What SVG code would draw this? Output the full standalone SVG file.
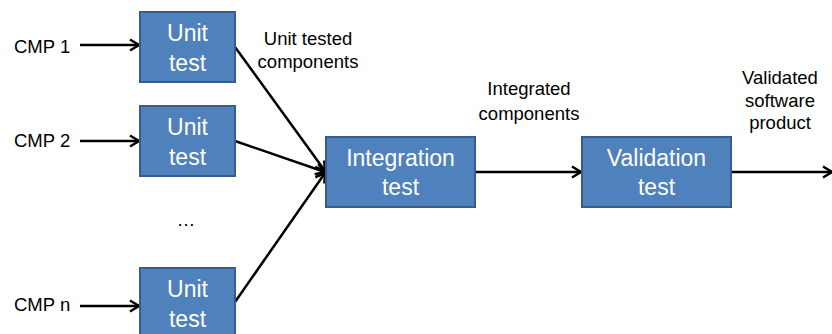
<svg xmlns="http://www.w3.org/2000/svg" width="832" height="334" viewBox="0 0 832 334">
<style>
.box{fill:#4F81BD;stroke:#385D8A;stroke-width:2}
.bt{font-family:"Liberation Sans",Arial,sans-serif;font-size:23px;fill:#ffffff;text-anchor:middle}
.lb{font-family:"Liberation Sans",Arial,sans-serif;font-size:18.5px;fill:#000000}
.c{text-anchor:middle}
.ln{stroke:#000;stroke-width:2.5;fill:none;marker-end:url(#arr)}
</style>
<defs>
<marker id="arr" markerUnits="userSpaceOnUse" viewBox="0 0 14 14" refX="12" refY="7" markerWidth="14" markerHeight="14" orient="auto">
<path d="M3,1.5 L12,7 L3,12.5" fill="none" stroke="#000" stroke-width="2.5"/>
</marker>
</defs>
<rect width="832" height="334" fill="#ffffff"/>
<g id="connectors">
<line class="ln" x1="80" y1="45" x2="139" y2="45"/>
<line class="ln" x1="80" y1="141" x2="139" y2="141"/>
<line class="ln" x1="80" y1="306" x2="139" y2="306"/>
<line class="ln" x1="235" y1="47" x2="325" y2="171"/>
<line class="ln" x1="235" y1="141" x2="325" y2="172"/>
<line class="ln" x1="235" y1="302" x2="325" y2="173"/>
<line class="ln" x1="476" y1="172" x2="581" y2="172"/>
<line class="ln" x1="732" y1="172" x2="832" y2="172"/>
</g>
<g id="cmp1"><text class="lb" x="14" y="53">CMP 1</text></g>
<g id="cmp2"><text class="lb" x="14" y="147">CMP 2</text></g>
<g id="cmpn"><text class="lb" x="14" y="311">CMP n</text></g>
<g id="unit1">
<rect class="box" x="140" y="12" width="95" height="70"/>
<text class="bt" x="187.5" y="41">Unit</text>
<text class="bt" x="187.5" y="71">test</text>
</g>
<g id="unit2">
<rect class="box" x="140" y="106" width="95" height="70"/>
<text class="bt" x="187.5" y="135">Unit</text>
<text class="bt" x="187.5" y="165">test</text>
</g>
<g id="ellipsis"><text class="lb c" x="186" y="226">…</text></g>
<g id="unitn">
<rect class="box" x="140" y="268" width="95" height="72"/>
<text class="bt" x="187.5" y="297">Unit</text>
<text class="bt" x="187.5" y="327">test</text>
</g>
<g id="lbl-unit-tested">
<text class="lb c" x="308" y="45">Unit tested</text>
<text class="lb c" x="308" y="68">components</text>
</g>
<g id="integration">
<rect class="box" x="326" y="137" width="149" height="70"/>
<text class="bt" x="400.5" y="166">Integration</text>
<text class="bt" x="400.5" y="195">test</text>
</g>
<g id="lbl-integrated">
<text class="lb c" x="529" y="95">Integrated</text>
<text class="lb c" x="529" y="120">components</text>
</g>
<g id="validation">
<rect class="box" x="582" y="137" width="149" height="70"/>
<text class="bt" x="656.5" y="166">Validation</text>
<text class="bt" x="656.5" y="195">test</text>
</g>
<g id="lbl-validated">
<text class="lb c" x="780" y="84">Validated</text>
<text class="lb c" x="780" y="107">software</text>
<text class="lb c" x="780" y="129">product</text>
</g>
</svg>
